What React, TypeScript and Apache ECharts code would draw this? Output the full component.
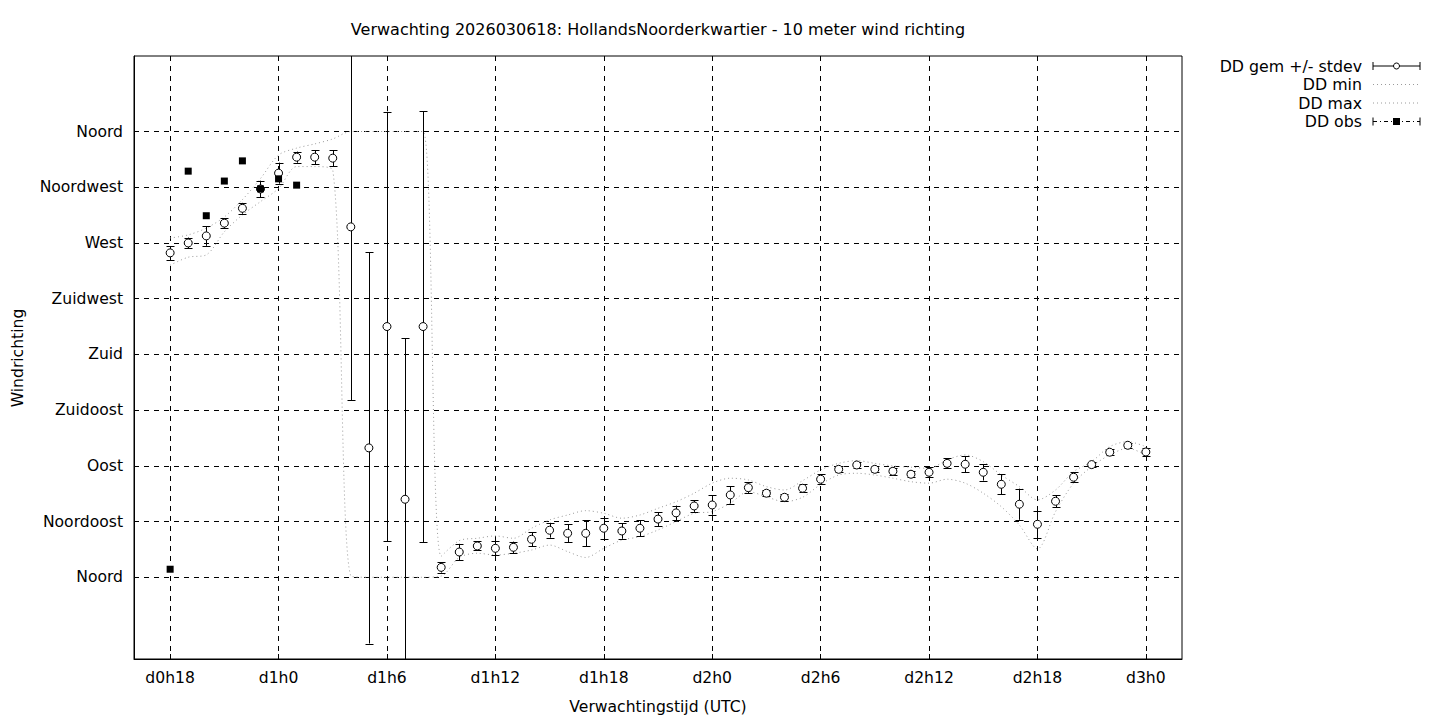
import React, { useEffect, useRef } from "react";
import * as echarts from "echarts";

// forecast hours counted from d0h0
const hours = [
  18, 19, 20, 21, 22, 23, 24, 25, 26, 27,
  28, 29, 30, 31, 32, 33, 34, 35, 36, 37,
  38, 39, 40, 41, 42, 43, 44, 45, 46, 47,
  48, 49, 50, 51, 52, 53, 54, 55, 56, 57,
  58, 59, 60, 61, 62, 63, 64, 65, 66, 67,
  68, 69, 70, 71, 72,
];
const ddMean = [
  262, 270, 275.7, 286, 298, 313.6, 326.4, 339.3, 339.3, 338.5,
  283, 104.5, 202.5, 63, 202.5, 8, 20.4, 25.3, 23.4, 24.2,
  30.7, 38, 35.5, 35.5, 39.6, 37.4, 39.6, 47, 52, 57.6,
  58.4, 66.5, 72.4, 67.9, 64.6, 71.9, 79.2, 87.2, 90.7, 87.2,
  85.6, 83.2, 84.8, 92, 91.3, 84.8, 75.1, 59, 42.8, 61.4,
  80.8, 91, 101, 106.6, 101.2,
];
const ddStdev = [
  5.4, 4.4, 8, 4, 4.4, 6.7, 8.5, 4.5, 5.6, 6.5,
  140, 158, 173.5, 130, 174, 4.2, 6.6, 3.6, 5.5, 4.6,
  5.6, 6, 7.3, 10.4, 8.5, 6.3, 6.3, 5.6, 5.9, 4.8,
  7.8, 7, 4.4, 2.2, 2.8, 3.2, 4, 2.3, 2.4, 2.3,
  2.6, 2.4, 4, 4, 6.3, 6.7, 8, 12.6, 10.8, 4.8,
  4, 2.2, 2.2, 2.2, 3,
];
const ddMin = [
  252, 258.5, 260.4, 279, 292.7, 303.4, 314, 331.7, 331.7, 329,
  1, 0, 0, 0, 0, 1, 16, 19.4, 18, 19.4,
  22, 26, 20.7, 16, 23.4, 30, 32.8, 38.2, 45, 51.7,
  53, 59.8, 69.2, 65, 61, 64.6, 75, 82.6, 84, 82.6,
  80, 77.2, 76, 79.2, 76, 67.9, 57, 42.2, 22.9, 53,
  76, 89.4, 98.8, 104.2, 98.8,
];
const ddMax = [
  274, 276.5, 282, 291, 305, 322, 341, 346.6, 350, 354,
  360, 360, 360, 360, 360, 17, 29.6, 31.5, 33.4, 31.5,
  39.6, 46.3, 50.3, 53.8, 51.7, 47.7, 50.3, 55.7, 61, 67.9,
  76, 80, 78.6, 73.2, 70.5, 78, 86.7, 92, 94.2, 92,
  89.9, 88.9, 88, 94.8, 98.8, 93.4, 82.6, 73.2, 62.5, 70.5,
  85.3, 93.4, 105.5, 109.5, 105.5,
];
const obsHours = [18, 19, 20, 21, 22, 23, 24, 25];
const ddObs = [6.5, 328, 292, 320, 336.3, 313.7, 321.8, 316.7];

const xTicks = [18, 24, 30, 36, 42, 48, 54, 60, 66, 72];
const xTickLabels = ["d0h18", "d1h0", "d1h6", "d1h12", "d1h18", "d2h0", "d2h6", "d2h12", "d2h18", "d3h0"];
const yTicks = [0, 45, 90, 135, 180, 225, 270, 315, 360];
const yTickLabels = ["Noord", "Noordoost", "Oost", "Zuidoost", "Zuid", "Zuidwest", "West", "Noordwest", "Noord"];

const titleText = "Verwachting 2026030618: HollandsNoorderkwartier - 10 meter wind richting";
const legendLabels = ["DD gem +/- stdev", "DD min", "DD max", "DD obs"];

const X_MIN = 16;
const X_MAX = 74;
const Y_MIN = -66;
const Y_MAX = 421;

const FONT = "DejaVu Sans";
const FS = 15.6;
const DOT_GREY = "#9a9a9a";

export default function App() {
  const ref = useRef<HTMLDivElement>(null);

  useEffect(() => {
    document.body.style.margin = "0";
    if (!ref.current) return;
    const chart = echarts.init(ref.current, undefined, { renderer: "svg" });

    const meanData = hours.map((h, i) => [h, ddMean[i], ddStdev[i]]);
    const legendRowsY = [66, 84.5, 103, 121.5];
    const lx1 = 1373;
    const lx2 = 1420;
    const lmid = (lx1 + lx2) / 2;

    const legendGraphics: any[] = [];
    legendLabels.forEach((t, i) => {
      legendGraphics.push({
        type: "text",
        style: {
          text: t,
          x: 1362,
          y: legendRowsY[i],
          align: "right",
          verticalAlign: "middle",
          fontFamily: FONT,
          fontSize: 15.8,
          fill: "#000",
        },
      });
    });
    const y0 = legendRowsY[0];
    legendGraphics.push(
      { type: "line", shape: { x1: lx1, y1: y0, x2: lx2, y2: y0 }, style: { stroke: "#000", lineWidth: 1 } },
      { type: "line", shape: { x1: lx1, y1: y0 - 4, x2: lx1, y2: y0 + 4 }, style: { stroke: "#000", lineWidth: 1 } },
      { type: "line", shape: { x1: lx2, y1: y0 - 4, x2: lx2, y2: y0 + 4 }, style: { stroke: "#000", lineWidth: 1 } },
      { type: "circle", shape: { cx: lmid, cy: y0, r: 3 }, style: { fill: "#fff", stroke: "#000", lineWidth: 1 } }
    );
    [1, 2].forEach((i) => {
      const yy = legendRowsY[i];
      legendGraphics.push({
        type: "line",
        shape: { x1: lx1, y1: yy, x2: lx2, y2: yy },
        style: { stroke: DOT_GREY, lineWidth: 1, lineDash: [1, 3] },
      });
    });
    const y3 = legendRowsY[3];
    legendGraphics.push(
      { type: "line", shape: { x1: lx1, y1: y3, x2: lx2, y2: y3 }, style: { stroke: "#000", lineWidth: 1, lineDash: [4, 3, 1, 3] } },
      { type: "line", shape: { x1: lx1, y1: y3 - 4, x2: lx1, y2: y3 + 4 }, style: { stroke: "#000", lineWidth: 1 } },
      { type: "line", shape: { x1: lx2, y1: y3 - 4, x2: lx2, y2: y3 + 4 }, style: { stroke: "#000", lineWidth: 1 } },
      { type: "rect", shape: { x: lmid - 3.5, y: y3 - 3.5, width: 7, height: 7 }, style: { fill: "#000" } }
    );

    const option: any = {
      animation: false,
      backgroundColor: "#fff",
      textStyle: { fontFamily: FONT },
      grid: {
        left: 134,
        right: 258,
        top: 56,
        bottom: 61,
        show: true,
        borderColor: "#000",
        borderWidth: 1,
        backgroundColor: "transparent",
      },
      xAxis: {
        type: "value",
        min: X_MIN,
        max: X_MAX,
        axisLine: { show: true, onZero: false, lineStyle: { color: "#000", width: 1 } },
        axisTick: { show: true, inside: true, length: 5, customValues: xTicks, lineStyle: { color: "#000" } },
        axisLabel: {
          customValues: xTicks,
          margin: 11,
          color: "#000",
          fontFamily: FONT,
          fontSize: FS,
          formatter: (v: number) => xTickLabels[xTicks.indexOf(v)] ?? "",
        },
        splitLine: { show: true, lineStyle: { color: "#000", width: 1, type: [5, 5] } },
      },
      yAxis: {
        type: "value",
        min: Y_MIN,
        max: Y_MAX,
        axisLine: { show: true, onZero: false, lineStyle: { color: "#000", width: 1 } },
        axisTick: { show: true, inside: true, length: 5, customValues: yTicks, lineStyle: { color: "#000" } },
        axisLabel: {
          customValues: yTicks,
          margin: 11,
          color: "#000",
          fontFamily: FONT,
          fontSize: FS,
          formatter: (v: number) => yTickLabels[yTicks.indexOf(v)] ?? "",
        },
        splitLine: { show: true, lineStyle: { color: "#000", width: 1, type: [5, 5] } },
      },
      graphic: [
        {
          type: "text",
          style: {
            text: titleText,
            x: 658,
            y: 29,
            align: "center",
            verticalAlign: "middle",
            fontFamily: FONT,
            fontSize: 16,
            fill: "#000",
          },
        },
        {
          type: "text",
          style: {
            text: "Verwachtingstijd (UTC)",
            x: 658,
            y: 707,
            align: "center",
            verticalAlign: "middle",
            fontFamily: FONT,
            fontSize: FS,
            fill: "#000",
          },
        },
        {
          type: "text",
          x: 18,
          y: 358,
          rotation: Math.PI / 2,
          style: {
            text: "Windrichting",
            x: 0,
            y: 0,
            align: "center",
            verticalAlign: "middle",
            fontFamily: FONT,
            fontSize: FS,
            fill: "#000",
          },
        },
        ...legendGraphics,
      ],
      series: [
        {
          name: "DD min",
          type: "line",
          data: hours.map((h, i) => [h, ddMin[i]]),
          showSymbol: false,
          smooth: 0.3,
          lineStyle: { color: DOT_GREY, width: 1, type: [1, 3] },
          z: 2,
        },
        {
          name: "DD max",
          type: "line",
          data: hours.map((h, i) => [h, ddMax[i]]),
          showSymbol: false,
          smooth: 0.3,
          lineStyle: { color: DOT_GREY, width: 1, type: [1, 3] },
          z: 2,
        },
        {
          name: "DD gem +/- stdev",
          type: "custom",
          data: meanData,
          encode: { x: 0, y: 1 },
          z: 3,
          renderItem: (_params: any, api: any) => {
            const x = api.value(0) as number;
            const m = api.value(1) as number;
            const s = api.value(2) as number;
            const lo = m - s;
            const hi = m + s;
            const pTop = api.coord([x, Math.min(hi, Y_MAX)]);
            const pBot = api.coord([x, Math.max(lo, Y_MIN)]);
            const cx = Math.round(pTop[0]) + 0.5;
            const children: any[] = [
              {
                type: "line",
                shape: { x1: cx, y1: pTop[1], x2: cx, y2: pBot[1] },
                style: { stroke: "#000", lineWidth: 1 },
              },
            ];
            if (hi <= Y_MAX) {
              children.push({
                type: "line",
                shape: { x1: cx - 4, y1: Math.round(pTop[1]) + 0.5, x2: cx + 4, y2: Math.round(pTop[1]) + 0.5 },
                style: { stroke: "#000", lineWidth: 1 },
              });
            }
            if (lo >= Y_MIN) {
              children.push({
                type: "line",
                shape: { x1: cx - 4, y1: Math.round(pBot[1]) + 0.5, x2: cx + 4, y2: Math.round(pBot[1]) + 0.5 },
                style: { stroke: "#000", lineWidth: 1 },
              });
            }
            return { type: "group", children };
          },
        },
        {
          name: "DD gem",
          type: "scatter",
          data: hours.map((h, i) => [h, ddMean[i]]),
          symbol: "circle",
          symbolSize: 8,
          itemStyle: { color: "#fff", borderColor: "#000", borderWidth: 1, opacity: 1 },
          z: 4,
        },
        {
          name: "DD obs",
          type: "scatter",
          data: obsHours.map((h, i) => [h, ddObs[i]]),
          symbol: "rect",
          symbolSize: 7,
          itemStyle: { color: "#000", opacity: 1 },
          z: 5,
        },
      ],
    };

    chart.setOption(option);
    return () => {
      chart.dispose();
    };
  }, []);

  return <div ref={ref} style={{ width: 1440, height: 720 }} />;
}
